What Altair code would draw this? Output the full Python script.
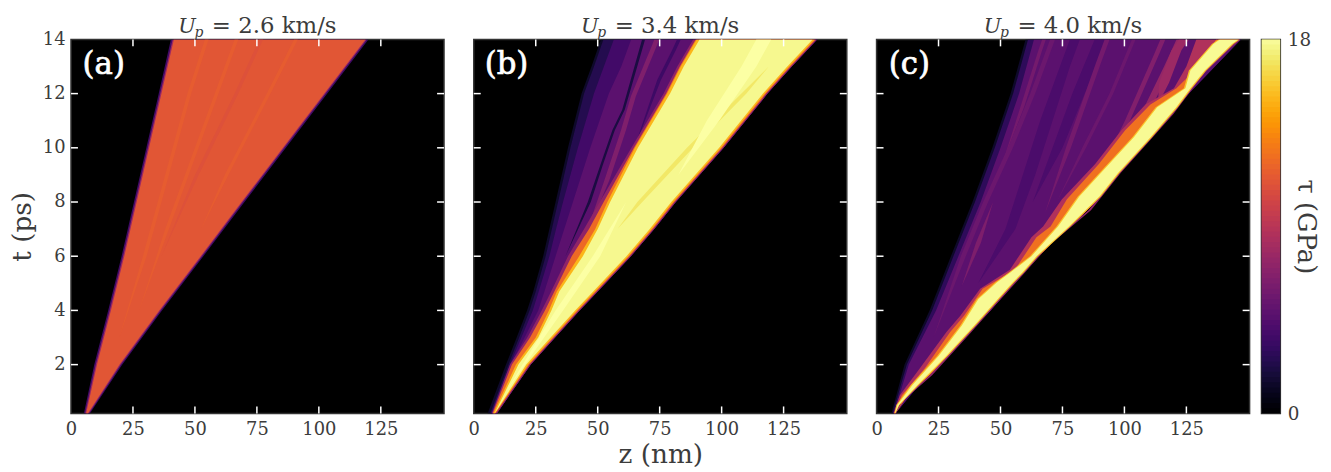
import altair as alt
import pandas as pd

FONT = "DejaVu Serif"
INK = "#3c3c3c"
W, H = 376, 377
X_DOMAIN = [0, 150.5]
Y_DOMAIN = [0.2, 14]
TAU_SCALE = alt.Scale(scheme="inferno", domain=[0, 18])
X_TICKS = [0, 25, 50, 75, 100, 125]
Y_TICKS = [2, 4, 6, 8, 10, 12, 14]
X_INNER = [25, 50, 75, 100, 125]
Y_INNER = [2, 4, 6, 8, 10, 12]

# ---- every band: (tau, t nodes, z left, z right), painted in order ----
T_A = [0.2, 2, 4, 6, 8, 10, 12, 14]
BANDS_A = [
    (3.5, T_A, [5.2, 9.4, 15.0, 20.4, 25.4, 30.4, 35.4, 40.3], [7.6, 20.7, 36.7, 53.4, 70.0, 86.7, 103.4, 120.0]),
    (7.5, T_A, [5.7, 10.0, 15.6, 21.0, 26.0, 31.0, 36.0, 41.0], [7.2, 20.1, 36.1, 52.8, 69.3, 86.0, 102.7, 119.3]),
    (11.1, T_A, [6.1, 10.5, 16.1, 21.5, 26.5, 31.5, 36.5, 41.5], [6.8, 19.6, 35.6, 52.3, 68.8, 85.5, 102.2, 118.8]),
    (11.4, [3, 6, 9, 12, 14], [19.5, 29, 38, 47, 54], [19.5, 30.5, 39.5, 48.5, 55.5]),
    (11.4, [4, 7, 10, 13, 14], [27.5, 38, 50, 62, 66], [27.5, 39.5, 51.5, 63.5, 67.5]),
    (10.8, [6, 9, 12, 14], [36.5, 50, 66, 76], [36.5, 51.5, 67.5, 77.5]),
    (11.4, [7, 9, 12, 14], [52.5, 62, 79, 90], [52.5, 63.5, 80.5, 91.5]),
]

T_BY = [0.2, 2, 3, 4, 4.7, 6, 7, 8, 10, 12, 13, 14]
R_B = [9.3, 23.0, 32.8, 42.7, 50.0, 63.4, 72.8, 81.5, 100.8, 118.5, 128.3, 138.5]
BANDS_B = [
    (1.3, T_BY, [5.6, 13.0, 17.3, 21.5, 24.0, 28.0, 30.5, 33.0, 38.0, 43.5, 47.5, 51.3], R_B),
    (2.4, T_BY, [6.6, 14.0, 18.3, 22.5, 25.0, 29.0, 31.5, 34.0, 39.0, 44.5, 48.5, 52.3], R_B),
    (3.6, T_BY, [7.0, 14.6, 19.2, 23.8, 26.2, 30.5, 33.2, 36.0, 42.0, 48.5, 52.5, 56.5], R_B),
    (4.7, T_BY, [7.4, 15.0, 20.5, 26.0, 28.5, 33.0, 36.5, 40.0, 47.0, 54.5, 59.5, 63.5], R_B),
    (2.0, [6.0, 8, 9.4, 10.65, 11.4, 13.8, 14], [37.0, 46.0, 51.2, 55.9, 59.9, 67.3, 67.9], [37.0, 47.2, 52.2, 56.9, 60.9, 68.5, 69.1]),
    (6.3, [6.5, 8.8, 10.65, 11.9, 13.8, 14], [44.0, 52.7, 59.4, 63.4, 72.0, 72.8], [44.0, 54.7, 61.4, 65.4, 74.0, 74.8]),
    (3.4, [10, 12.5, 13.6, 14], [64.8, 74, 80, 82], [64.8, 75.5, 81.5, 83.5]),
    (7.0, T_BY, [7.3, 14.6, 21.6, 27.4, 31.2, 38.0, 44.5, 50.8, 63.6, 76.6, 82.1, 88.5], R_B),
    (12.0, T_BY, [7.6, 15.4, 22.7, 28.7, 32.5, 39.5, 46.5, 52.4, 64.6, 77.6, 83.1, 89.5],
     [8.8, 22.5, 32.3, 42.2, 49.5, 62.9, 72.3, 81.0, 100.3, 118.0, 127.8, 138.0]),
    (15.0, T_BY, [7.9, 17.0, 25.0, 30.3, 33.5, 42.5, 49.0, 53.9, 65.0, 78.0, 83.5, 89.9],
     [8.5, 22.0, 31.8, 41.7, 49.0, 62.4, 71.8, 80.5, 99.8, 117.5, 127.3, 137.5]),
    (17.6, T_BY, [8.4, 18.0, 26.0, 31.3, 34.5, 44.0, 50.0, 55.0, 66.2, 79.2, 84.7, 91.1],
     [8.4, 21.2, 31.0, 40.9, 48.2, 61.6, 71.0, 79.7, 99.0, 116.7, 126.5, 136.7]),
    (16.9, [7, 8, 10, 12, 13], [58, 66, 86, 108, 119], [58, 68, 88.5, 110, 119]),
    (18.0, [1, 4, 6, 8], [13, 33, 48, 61.5], [13, 36, 51, 61.5]),
    (18.0, [9, 11, 13, 14], [82.5, 94, 108, 114], [82.5, 99, 114, 120]),
]

T_CR = [0.2, 0.65, 1.61, 3.08, 4.18, 5.4, 6.37, 7.7, 9.07, 10.16, 11.25, 12.73, 13.83, 14]
R_C = [7.8, 10.4, 22.4, 37.1, 47.8, 59.9, 69.2, 86.5, 98.5, 109.2, 119.8, 132.0, 144.5, 147.0]
R_C3 = [7.4, 9.4, 21.4, 36.1, 46.8, 58.9, 68.2, 85.5, 97.5, 108.2, 118.8, 131.0, 143.5, 146.0]
T_CL = [0.2, 2, 4, 6, 8, 10, 12, 14]
T_CF = [0.2, 0.87, 1.86, 3.2, 3.8, 4.8, 5.5, 6.7, 7.1, 8.1, 9.4, 10.65, 11.6, 12.2, 13.0, 14]
R_CF = [7.6, 12.5, 24.4, 37.8, 43.6, 53.5, 60.4, 72.9, 78.2, 89.5, 101.2, 113.5, 122.1, 127.2, 134.4, 146.5]
T_CY = [0.2, 0.51, 1.24, 2.33, 3.44, 4.42, 5.03, 5.4, 6, 7.1, 8.2, 9.07, 10.4, 11.5, 12.2, 12.85, 13.83, 14]
Z1_C = [7.6, 24, 46, 65, 86, 106, 126, 147]
BANDS_C = [
    (1.3, T_CL, [6.0, 11.3, 21.4, 30.0, 38.7, 46.7, 54.1, 60.1], Z1_C),
    (2.8, T_CL, [6.5, 12.2, 22.4, 31.0, 39.7, 47.7, 55.1, 61.1], Z1_C),
    (4.7, T_CL, [7.0, 13.0, 24.0, 33.0, 42.0, 50.0, 57.5, 63.5], Z1_C),
    (4.0, [5, 7, 9, 11, 13, 14], [41, 52, 59, 66, 74, 78], [41, 56, 64, 71, 78, 82]),
    (4.0, [8, 10, 12, 14], [63, 71, 79, 88], [63, 75, 84, 93]),
    (5.8, [9.4, 11.5, 13.6, 14], [50.7, 58.0, 65.3, 66.8], [50.7, 59.5, 66.8, 68.3]),
    (5.4, [3, 6, 8, 10, 12, 14], [23, 34, 43, 53, 62, 70], [23, 36, 45, 55, 64, 72]),
    (5.8, [7.6, 10, 13.1, 14], [68, 76.4, 88.4, 92], [68, 78.4, 90.4, 94]),
    (5.4, [8, 10, 12, 14], [72.7, 83, 94, 103], [72.7, 84.5, 95.5, 104.5]),
    (6.4, [9.2, 11, 13.5, 14], [90.5, 100.2, 112.2, 114.5], [90.5, 102.2, 114.2, 116.5]),
    (7.2, [10, 11.5, 13, 14], [101.5, 108, 116, 121], [101.5, 111, 119, 124]),
    (6.2, [4.9, 6.5, 8.0], [34.4, 40.1, 47], [34.4, 42.1, 47]),
    (7.6, [11.6, 12.4, 13.6, 14], [113.5, 114, 119, 122], [113.5, 118, 123, 126]),
    (8.5, T_CF, [6.8, 9.4, 17.4, 28.2, 33.8, 41.8, 53.8, 62.5, 67.2, 74.8, 88.2, 98.8, 108.5, 120, 125, 129], R_CF),
    (12.3, T_CF, [7.0, 10.2, 19.4, 29.7, 35.3, 42.8, 55.8, 64.5, 70.2, 76.8, 89.7, 100.3, 110.5, 121, 130, 137], R_CF),
    (7.0, T_CR, R_C3, R_C),
    (15.5, T_CY, [7.2, 8.0, 13.8, 24.5, 33.8, 40.5, 47.9, 53.4, 61.9, 72.6, 81.2, 89.9, 103.3, 112.6, 124.0, 126.0, 135.3, 137.9],
     [7.6, 9.2, 17.0, 28.8, 40.0, 49.5, 55.5, 59.4, 65.1, 78.2, 90.5, 98.0, 111.2, 121.5, 127.2, 133.0, 144.0, 146.5]),
    (17.7, T_CY, [7.4, 8.4, 14.4, 25.1, 34.4, 41.1, 48.5, 54.0, 62.5, 73.2, 81.8, 90.5, 103.9, 113.2, 124.6, 126.6, 135.9, 138.5],
     [7.4, 9.0, 16.4, 28.2, 39.4, 48.9, 54.9, 58.8, 64.5, 77.6, 89.9, 97.4, 110.6, 120.9, 126.6, 132.4, 143.4, 145.9]),
]

LABELS = ["(a)", "(b)", "(c)"]
SPEEDS = ["= 2.6 km/s", "= 3.4 km/s", "= 4.0 km/s"]
CBAR_LEVELS = [i * 0.25 for i in range(72)]
CBAR_TICKS = [0, 18]


def frame(**kw):
    return alt.Chart(pd.DataFrame(kw))


def panel(bands, label, speed, i):
    xaxis = alt.Axis(values=X_TICKS, ticks=False, domain=False, grid=False, labelPadding=7, titlePadding=3.5,
                     labelFlush=False, title="z (nm)" if i == 1 else None)
    yaxis = alt.Axis(values=Y_TICKS, ticks=False, domain=False, grid=False, labelPadding=6, titlePadding=6,
                     labelFlush=False, labels=i == 0, title="t (ps)" if i == 0 else None)
    sx = alt.Scale(domain=X_DOMAIN, nice=False, zero=False)
    sy = alt.Scale(domain=Y_DOMAIN, nice=False, zero=False)
    layers = []
    for tau, ts, z0, z1 in bands:
        d = pd.DataFrame({"t": ts, "z0": z0, "z1": z1, "tau": [tau] * len(ts)})
        layers.append(
            alt.Chart(d).mark_area(orient="horizontal", clip=True).encode(
                y=alt.Y("t:Q", scale=sy, axis=yaxis),
                x=alt.X("z0:Q", scale=sx, axis=xaxis),
                x2="z1:Q",
                color=alt.Color("tau:Q", scale=TAU_SCALE, legend=None),
            ))
    tick = alt.Chart(pd.DataFrame({"z": X_INNER}))
    ytick = alt.Chart(pd.DataFrame({"t": Y_INNER}))
    x_enc = alt.X("z:Q", scale=sx, axis=xaxis)
    y_enc = alt.Y("t:Q", scale=sy, axis=yaxis)
    layers += [
        tick.mark_rule(color="white", strokeWidth=1.5).encode(x=x_enc, y=alt.value(0), y2=alt.value(7)),
        tick.mark_rule(color="white", strokeWidth=1.5).encode(x=x_enc, y=alt.value(H - 7), y2=alt.value(H)),
        ytick.mark_rule(color="white", strokeWidth=1.5).encode(y=y_enc, x=alt.value(0), x2=alt.value(7)),
        ytick.mark_rule(color="white", strokeWidth=1.5).encode(y=y_enc, x=alt.value(W - 7), x2=alt.value(W)),
        frame(s=[label]).mark_text(font=FONT, fontSize=31, color="white", align="center", baseline="middle",
                                   stroke="white", strokeWidth=0.7).encode(
            text="s:N", x=alt.value(33), y=alt.value(26)),
        frame(s=["U"]).mark_text(font=FONT, fontSize=21, fontStyle="italic", color=INK, align="left",
                                 baseline="alphabetic").encode(
            text="s:N", x=alt.value(108), y=alt.value(-6)),
        frame(s=["p"]).mark_text(font=FONT, fontSize=14, fontStyle="italic", color=INK, align="left",
                                 baseline="alphabetic").encode(
            text="s:N", x=alt.value(124.5), y=alt.value(-2)),
        frame(s=[speed]).mark_text(font=FONT, fontSize=23, color=INK, align="left",
                                   baseline="alphabetic").encode(
            text="s:N", x=alt.value(142), y=alt.value(-6)),
    ]
    return alt.layer(*layers).properties(width=W, height=H)


panels = [panel(BANDS_A, LABELS[0], SPEEDS[0], 0),
          panel(BANDS_B, LABELS[1], SPEEDS[1], 1),
          panel(BANDS_C, LABELS[2], SPEEDS[2], 2)]

cbar_df = pd.DataFrame({"lo": CBAR_LEVELS, "hi": [v + 0.5 for v in CBAR_LEVELS], "x0": [0] * 72, "x1": [1] * 72})
cbar = alt.Chart(cbar_df).mark_rect(clip=True).encode(
    x=alt.X("x0:Q", scale=alt.Scale(domain=[0, 1]), axis=None),
    x2="x1:Q",
    y=alt.Y("lo:Q", scale=alt.Scale(domain=[0, 18], nice=False),
            axis=alt.Axis(orient="right", values=CBAR_TICKS, ticks=False, domain=False, grid=False,
                          labelFlush=False, title="τ (GPa)", titleAngle=90, titleFontSize=26, titleX=25,
                          titleY=H / 2, titleAlign="center", titleBaseline="middle", labelPadding=7,
                          labelFontSize=18.5)),
    y2="hi:Q",
    color=alt.Color("lo:Q", scale=TAU_SCALE, legend=None),
).properties(width=19, height=H)

row = alt.hconcat(*panels, spacing=21)
chart = alt.hconcat(row, cbar, spacing=9).properties(
    padding={"left": 0.5, "top": 4.8, "right": 4, "bottom": 0}, background="white"
).configure_view(fill="black", stroke="#333333", strokeWidth=1.5).configure_axis(
    labelFont=FONT, titleFont=FONT, labelColor=INK, titleColor=INK, labelFontSize=18,
    titleFontSize=26.5, titleFontWeight="normal",
    labelFontWeight="normal",
)
chart.save("out.html", embed_options={"renderer": "svg", "actions": False})
